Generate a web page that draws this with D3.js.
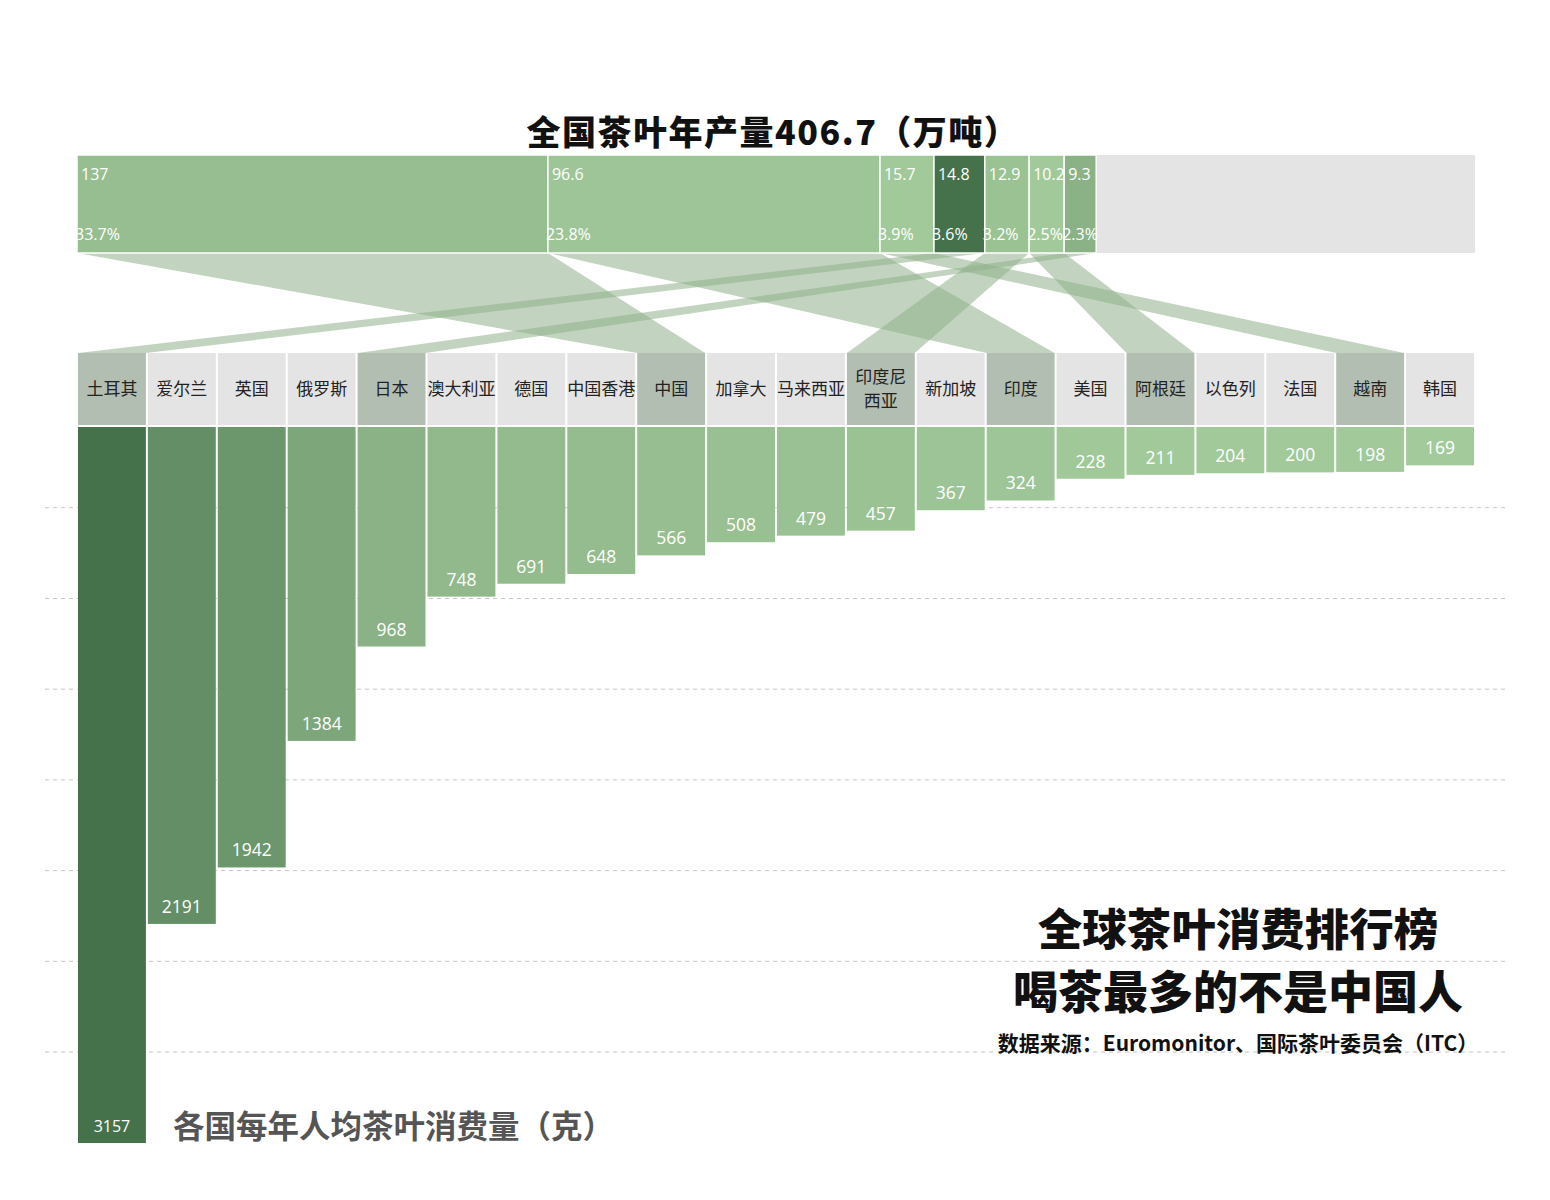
<!DOCTYPE html>
<html>
<head>
<meta charset="utf-8">
<script src="https://cdn.jsdelivr.net/npm/d3@7"></script>
<style>
  html, body { margin: 0; padding: 0; background: #fff; }
  svg { display: block; }
</style>
</head>
<body>
<svg id="chart" width="1550" height="1200"></svg>
<script>
// ---------- data ----------
const countries = ['土耳其','爱尔兰','英国','俄罗斯','日本','澳大利亚','德国','中国香港','中国','加拿大','马来西亚','印度尼西亚','新加坡','印度','美国','阿根廷','以色列','法国','越南','韩国'];
const consumption = [3157,2191,1942,1384,968,748,691,648,566,508,479,457,367,324,228,211,204,200,198,169];
const prodCountries = ['中国','印度','越南','土耳其','印度尼西亚','阿根廷','日本'];
const production = [137,96.6,15.7,14.8,12.9,10.2,9.3];
const prodShares = ['33.7%','23.8%','3.9%','3.6%','3.2%','2.5%','2.3%'];
const totalProduction = 406.7;
const gridTicks = [400,800,1200,1600,2000,2400,2800];

const titleTop = '全国茶叶年产量406.7（万吨）';
const titleMain1 = '全球茶叶消费排行榜';
const titleMain2 = '喝茶最多的不是中国人';
const sourceText = '数据来源：Euromonitor、国际茶叶委员会（ITC）';
const axisTitle = '各国每年人均茶叶消费量（克）';

// ---------- layout ----------
const svg = d3.select('#chart');
const left = 77, right = 1475;
const cjk = '"Noto Sans CJK SC", "Noto Sans", sans-serif';
const num = '"Open Sans", "Noto Sans CJK SC", sans-serif';

const consByCountry = new Map(countries.map((c, i) => [c, consumption[i]]));

const color = d3.scaleLinear()
  .domain([d3.min(consumption), d3.max(consumption)])
  .range(['#a3ca9b', '#46724b']);

// top stacked bar
const topY0 = 155, topY1 = 253;
const xp = d3.scaleLinear().domain([0, totalProduction]).range([left, right]);
let acc = 0;
const segs = production.map((v, i) => {
  const s = { name: prodCountries[i], v, share: prodShares[i], x0: xp(acc), x1: xp(acc + v) };
  acc += v;
  return s;
});

// categorical x for countries
const xb = d3.scaleBand().domain(countries).range([left, right]).padding(0);
const cellY0 = 353, cellY1 = 425;

// consumption y scale
const y = d3.scaleLinear().domain([0, 3200]).range([417, 417 + 3200 * 0.2268]);
const barOffset = 10;

// gridlines
svg.append('g').selectAll('line').data(gridTicks).join('line')
  .attr('x1', 45).attr('x2', 1505)
  .attr('y1', d => y(d)).attr('y2', d => y(d))
  .attr('stroke', '#c4c4c4').attr('stroke-width', 1)
  .attr('stroke-dasharray', '4,4');

// title top
svg.append('text')
  .attr('x', (left + right) / 2 - 3).attr('y', 145)
  .attr('text-anchor', 'middle')
  .attr('font-family', cjk).attr('font-weight', 900).attr('font-size', 34)
  .attr('letter-spacing', 1.5)
  .attr('fill', '#111')
  .text(titleTop);

// gray remainder
svg.append('rect')
  .attr('x', xp(0)).attr('y', topY0)
  .attr('width', xp(totalProduction) - xp(0)).attr('height', topY1 - topY0)
  .attr('fill', '#e4e4e4');

// connectors
svg.append('g').selectAll('path').data(segs).join('path')
  .attr('d', d => {
    const a = xb(d.name), b = a + xb.bandwidth();
    return `M${d.x0},${topY1}L${d.x1},${topY1}L${b - 1},${cellY0}L${a + 1},${cellY0}Z`;
  })
  .attr('fill', '#8fb08a').attr('fill-opacity', 0.55);

// segments
const segG = svg.append('g');
segG.selectAll('rect').data(segs).join('rect')
  .attr('x', d => d.x0).attr('y', topY0)
  .attr('width', d => d.x1 - d.x0).attr('height', topY1 - topY0)
  .attr('fill', d => color(consByCountry.get(d.name)))
  .attr('stroke', '#fff').attr('stroke-width', 1.5);
segG.selectAll('text.v').data(segs).join('text').attr('class', 'v')
  .attr('x', d => d.x0 + 4).attr('y', topY0 + 25)
  .attr('font-family', num).attr('font-size', 16).attr('fill', '#fff')
  .text(d => d.v);
segG.selectAll('text.p').data(segs).join('text').attr('class', 'p')
  .attr('x', d => d.x0 - 2).attr('y', topY0 + 85)
  .attr('font-family', num).attr('font-size', 16).attr('fill', '#fff')
  .text(d => d.share);

// label cells
const prodSet = new Set(prodCountries);
const cellG = svg.append('g');
cellG.selectAll('rect').data(countries).join('rect')
  .attr('x', d => xb(d) + 1).attr('y', cellY0)
  .attr('width', xb.bandwidth() - 2).attr('height', cellY1 - cellY0)
  .attr('fill', d => prodSet.has(d) ? '#b3beb2' : '#e4e4e4');
cellG.selectAll('text').data(countries).join('text')
  .attr('x', d => xb(d) + xb.bandwidth() / 2)
  .attr('text-anchor', 'middle')
  .attr('font-family', cjk).attr('font-size', 17).attr('fill', '#222')
  .each(function(d) {
    const t = d3.select(this);
    const cy = (cellY0 + cellY1) / 2;
    if (d.length > 4) {
      t.append('tspan').attr('x', xb(d) + xb.bandwidth() / 2).attr('y', cy - 6).text(d.slice(0, 3));
      t.append('tspan').attr('x', xb(d) + xb.bandwidth() / 2).attr('y', cy + 18).text(d.slice(3));
    } else {
      t.attr('y', cy + 6).text(d);
    }
  });

// bars
const data = countries.map((c, i) => ({ c, v: consumption[i] }));
const barG = svg.append('g');
barG.selectAll('rect').data(data).join('rect')
  .attr('x', d => xb(d.c) + 1).attr('y', y(0) + barOffset)
  .attr('width', xb.bandwidth() - 2).attr('height', d => y(d.v) - y(0))
  .attr('fill', d => color(d.v));
barG.selectAll('text').data(data).join('text')
  .attr('x', d => xb(d.c) + xb.bandwidth() / 2)
  .attr('y', d => y(d.v) + barOffset - 11)
  .attr('text-anchor', 'middle')
  .attr('font-family', num).attr('font-size', d => d.v > 3000 ? 16 : 17.5).attr('fill', '#fff')
  .text(d => d.v);

// axis title
svg.append('text')
  .attr('x', 173).attr('y', 1138)
  .attr('font-family', cjk).attr('font-weight', 700).attr('font-size', 31.5)
  .attr('fill', '#555')
  .text(axisTitle);

// main titles
const cx = 1238;
svg.append('text').attr('x', cx).attr('y', 946).attr('text-anchor', 'middle')
  .attr('font-family', cjk).attr('font-weight', 900).attr('font-size', 44.5).attr('fill', '#111')
  .text(titleMain1);
svg.append('text').attr('x', cx).attr('y', 1009).attr('text-anchor', 'middle')
  .attr('font-family', cjk).attr('font-weight', 900).attr('font-size', 45).attr('fill', '#111')
  .text(titleMain2);
svg.append('text').attr('x', cx).attr('y', 1051).attr('text-anchor', 'middle')
  .attr('font-family', cjk).attr('font-weight', 700).attr('font-size', 21).attr('fill', '#111')
  .text(sourceText);
</script>
</body>
</html>
